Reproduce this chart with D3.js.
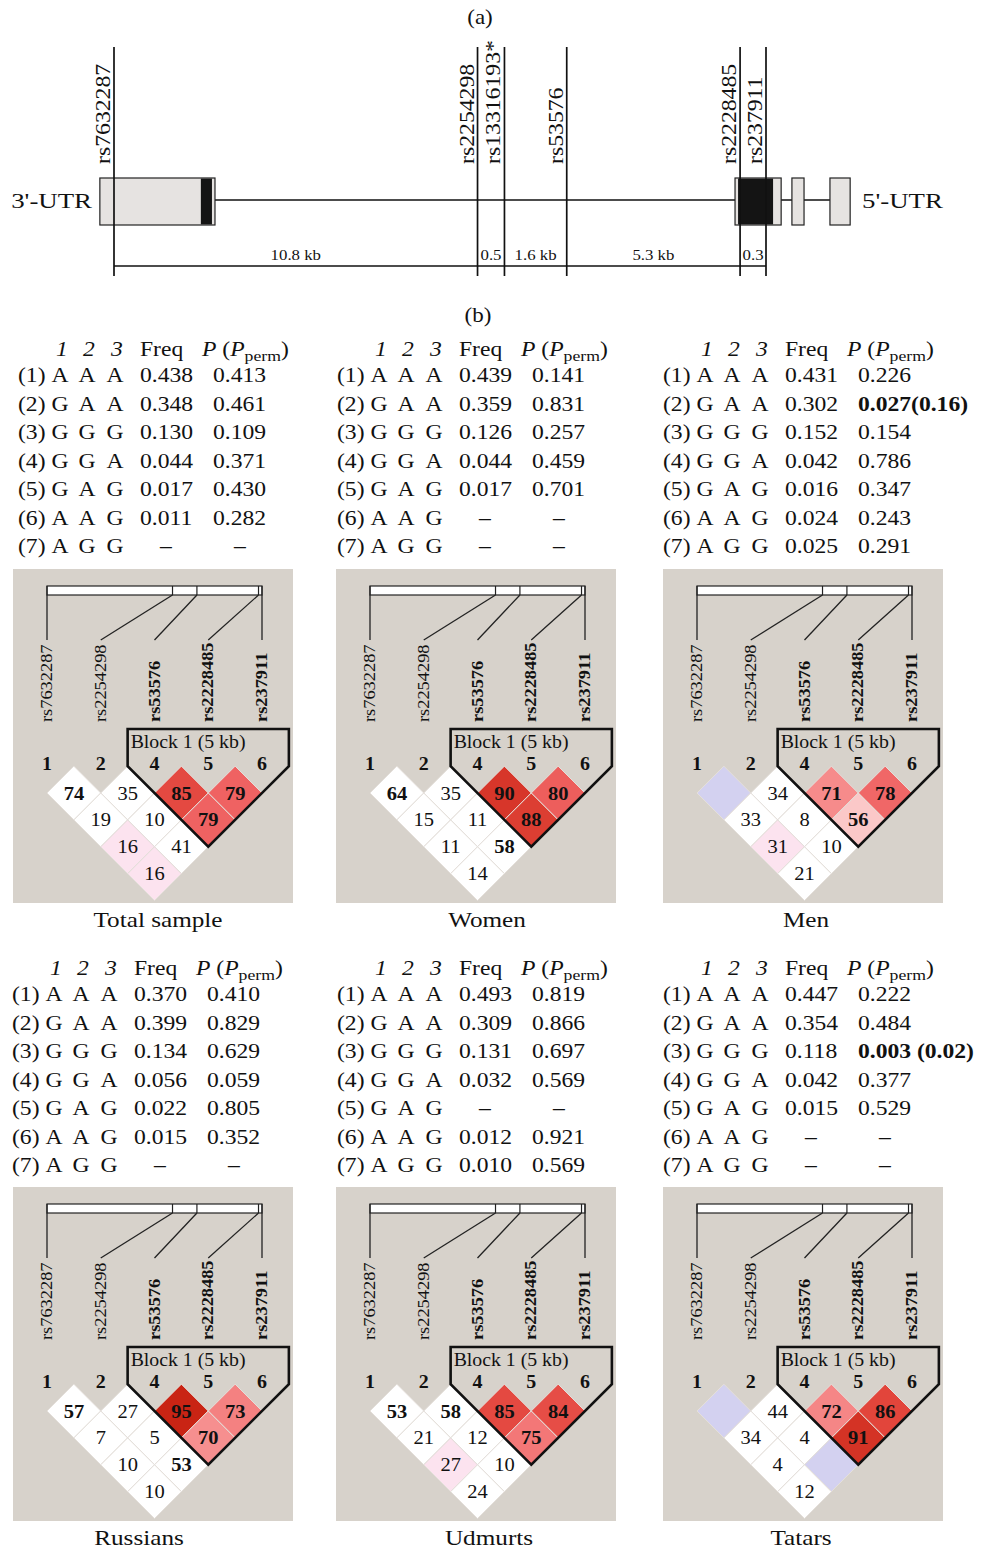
<!DOCTYPE html>
<html><head><meta charset="utf-8">
<script src="https://cdn.jsdelivr.net/npm/d3@7"></script>
<style>
body{margin:0;background:#fff}
svg{display:block}
text{font-family:"Liberation Serif","Times New Roman",serif;fill:#111}
</style>
</head><body>
<svg id="c" width="984" height="1549"></svg>
<script>
// ---------------- DATA ----------------
// (a) gene structure
const geneSnps = ["rs7632287", "rs2254298", "rs13316193*", "rs53576", "rs2228485", "rs237911"];
const geneSnpPos = [0, 10.8, 11.6, 13.45, 18.6, 19.37];          // schematic positions
const gapLabels = ["10.8 kb", "0.5", "1.6 kb", "5.3 kb", "0.3"];
const exonStart = [-0.42, 18.45, 20.14, 21.27];
const exonEnd = [3.0, 19.82, 20.5, 21.87];
const cdsStart = [2.58, 18.54, null, null];
const cdsEnd = [2.91, 19.58, null, null];

// (b) haplotype tables
const groups = ["Total sample", "Women", "Men", "Russians", "Udmurts", "Tatars"];
const haplotypes = ["A A A", "G A A", "G G G", "G G A", "G A G", "A A G", "A G G"];
const freqTotal = ["0.438", "0.348", "0.130", "0.044", "0.017", "0.011", "–"];
const pTotal = ["0.413", "0.461", "0.109", "0.371", "0.430", "0.282", "–"];
const freqWomen = ["0.439", "0.359", "0.126", "0.044", "0.017", "–", "–"];
const pWomen = ["0.141", "0.831", "0.257", "0.459", "0.701", "–", "–"];
const freqMen = ["0.431", "0.302", "0.152", "0.042", "0.016", "0.024", "0.025"];
const pMen = ["0.226", "0.027(0.16)", "0.154", "0.786", "0.347", "0.243", "0.291"];
const freqRussians = ["0.370", "0.399", "0.134", "0.056", "0.022", "0.015", "–"];
const pRussians = ["0.410", "0.829", "0.629", "0.059", "0.805", "0.352", "–"];
const freqUdmurts = ["0.493", "0.309", "0.131", "0.032", "–", "0.012", "0.010"];
const pUdmurts = ["0.819", "0.866", "0.697", "0.569", "–", "0.921", "0.569"];
const freqTatars = ["0.447", "0.354", "0.118", "0.042", "0.015", "–", "–"];
const pTatars = ["0.222", "0.484", "0.003 (0.02)", "0.377", "0.529", "–", "–"];
const significantP = ["0.027(0.16)", "0.003 (0.02)"];

// LD plots
const ldSnps = ["rs7632287", "rs2254298", "rs53576", "rs2228485", "rs237911"];
const ldMarkerNums = ["1", "2", "4", "5", "6"];
const ldBlockSnps = [false, false, true, true, true];
const ldGapsKb = [10.8, 2.1, 5.3, 0.3];
const ldPairs = [[0,1],[1,2],[2,3],[3,4],[0,2],[1,3],[2,4],[0,3],[1,4],[0,4]];
const ldTotal = [74, 35, 85, 79, 19, 10, 79, 16, 41, 16];
const ldWomen = [64, 35, 90, 80, 15, 11, 88, 11, 58, 14];
const ldMen = [null, 34, 71, 78, 33, 8, 56, 31, 10, 21];
const ldRussians = [57, 27, 95, 73, 7, 5, 70, 10, 53, 10];
const ldUdmurts = [53, 58, 85, 84, 21, 12, 75, 27, 10, 24];
const ldTatars = [null, 44, 72, 86, 34, 4, 91, 4, null, 12];
// cell class: w = white, p = pink (low), b = blue, r = red graded by D'
const clsTotal = ["w","w","r","r","w","w","r","p","w","p"];
const clsWomen = ["w","w","r","r","w","w","r","w","w","w"];
const clsMen = ["b","w","r","r","w","w","r","p","w","w"];
const clsRussians = ["w","w","r","r","w","w","r","w","w","w"];
const clsUdmurts = ["w","w","r","r","w","w","r","p","w","w"];
const clsTatars = ["b","w","r","r","w","w","r","w","b","w"];

const freqs = [freqTotal, freqWomen, freqMen, freqRussians, freqUdmurts, freqTatars];
const pvals = [pTotal, pWomen, pMen, pRussians, pUdmurts, pTatars];
const lds = [ldTotal, ldWomen, ldMen, ldRussians, ldUdmurts, ldTatars];
const clss = [clsTotal, clsWomen, clsMen, clsRussians, clsUdmurts, clsTatars];

// ---------------- LAYOUT ----------------
const tableX = [0, 319, 645, -6, 319, 645];
const tableY = [0, 0, 0, 619, 619, 619];
const panelX = [13, 336, 663, 13, 336, 663];
const panelY = [569, 569, 569, 1187, 1187, 1187];
const titleX = [158, 487, 806, 139, 489, 801];
const PW = 280, PH = 334;

const svg = d3.select("#c");
const INK = "#111";

function T(g, x, y, s, o = {}) {
  const t = g.append("text")
    .attr("transform", `translate(${x},${y})${o.rot ? ` rotate(${o.rot})` : ""} scale(${o.sx || 1.18},1)`)
    .attr("font-size", o.size || 20)
    .attr("text-anchor", o.anchor || "start");
  if (o.weight) t.attr("font-weight", o.weight);
  if (o.italic) t.attr("font-style", "italic");
  if (s !== null) t.text(s);
  return t;
}

// ---------------- (a) ----------------
const gA = svg.append("g");
const xs = d3.scaleLinear().domain([0, 19.37]).range([114, 766]);
T(gA, 480, 24, "(a)", {anchor: "middle", size: 20, sx: 1.15});

gA.append("line").attr("x1", xs(exonEnd[0])).attr("x2", xs(exonStart[3]))
  .attr("y1", 200).attr("y2", 200).attr("stroke", INK).attr("stroke-width", 1.6);
exonStart.forEach((s, i) => {
  gA.append("rect").attr("x", xs(s)).attr("y", 178).attr("width", xs(exonEnd[i]) - xs(s)).attr("height", 47)
    .attr("fill", "#e6e3e1").attr("stroke", "#222").attr("stroke-width", 1.2);
  if (cdsStart[i] !== null) {
    gA.append("rect").attr("x", xs(cdsStart[i])).attr("y", 178.6).attr("width", xs(cdsEnd[i]) - xs(cdsStart[i])).attr("height", 45.8)
      .attr("fill", "#141414");
  }
});
geneSnps.forEach((s, i) => {
  const x = xs(geneSnpPos[i]);
  gA.append("line").attr("x1", x).attr("x2", x).attr("y1", 47).attr("y2", 276)
    .attr("stroke", INK).attr("stroke-width", 1.7);
  T(gA, x - 4, 164, s, {rot: -90, size: 22, sx: 1.08});
});
gA.append("line").attr("x1", xs(geneSnpPos[0])).attr("x2", xs(geneSnpPos[5]))
  .attr("y1", 266).attr("y2", 266).attr("stroke", INK).attr("stroke-width", 1.4);
gapLabels.forEach((l, i) => {
  const xm = (xs(geneSnpPos[i]) + xs(geneSnpPos[i + 1])) / 2;
  T(gA, xm, 260, l, {anchor: "middle", size: 14, sx: 1.2});
});
T(gA, 92, 208, "3'-UTR", {anchor: "end", size: 22, sx: 1.22});
T(gA, 862, 208, "5'-UTR", {anchor: "start", size: 22, sx: 1.22});

// ---------------- (b) ----------------
T(svg, 478, 322, "(b)", {anchor: "middle", size: 20, sx: 1.15});

const colX = [60, 87, 115];
groups.forEach((grp, k) => {
  const L = tableX[k], Y = tableY[k];
  const g = svg.append("g");
  ["1", "2", "3"].forEach((n, j) => T(g, L + colX[j] + 2, Y + 356, n, {anchor: "middle", italic: true}));
  T(g, L + 140, Y + 356, "Freq");
  const hp = T(g, L + 202, Y + 356, null);
  hp.append("tspan").attr("font-style", "italic").text("P");
  hp.append("tspan").text(" (");
  hp.append("tspan").attr("font-style", "italic").text("P");
  hp.append("tspan").attr("font-size", 15).attr("dy", 5).text("perm");
  hp.append("tspan").attr("dy", -5).text(")");
  haplotypes.forEach((h, i) => {
    const y = Y + 382 + i * 28.5;
    T(g, L + 18, y, `(${i + 1})`);
    h.split(" ").forEach((a, j) => T(g, L + colX[j], y, a, {anchor: "middle"}));
    const f = freqs[k][i], p = pvals[k][i];
    if (f === "–") T(g, L + 166, y, f, {anchor: "middle"}); else T(g, L + 140, y, f);
    if (p === "–") T(g, L + 240, y, p, {anchor: "middle"});
    else T(g, L + 213, y, p, {weight: significantP.includes(p) ? "bold" : null});
  });

  // ---------- LD panel ----------
  const P = svg.append("g").attr("transform", `translate(${panelX[k]},${panelY[k]})`);
  P.append("rect").attr("width", PW).attr("height", PH).attr("fill", "#d7d2cb");
  const mx = d3.scalePoint().domain(d3.range(ldSnps.length)).range([34, 249]);
  const h = mx.step() / 2;
  const cum = [0, ...Array.from(d3.cumsum(ldGapsKb))];
  const bx = d3.scaleLinear().domain([0, d3.max(cum)]).range([34, 249]);
  P.append("rect").attr("x", bx(0)).attr("y", 17).attr("width", bx(cum[cum.length - 1]) - bx(0)).attr("height", 9)
    .attr("fill", "#fff").attr("stroke", "#222").attr("stroke-width", 1.2);
  cum.forEach((c, i) => {
    P.append("line").attr("x1", bx(c)).attr("x2", bx(c)).attr("y1", 17).attr("y2", 26)
      .attr("stroke", "#222").attr("stroke-width", 1.2);
    P.append("line").attr("x1", bx(c)).attr("x2", mx(i)).attr("y1", 26).attr("y2", 71)
      .attr("stroke", "#222").attr("stroke-width", 1.3);
    T(P, mx(i) + 5, 153, ldSnps[i], {rot: -90, size: 17, sx: 1.08, weight: ldBlockSnps[i] ? "bold" : null});
    T(P, mx(i), 201, ldMarkerNums[i], {anchor: "middle", size: 19, sx: 1.05, weight: "bold"});
  });
  const y0 = 224;
  const red = d3.scaleLinear().domain([56, 71, 79, 86, 95])
    .range(["#fbc8c8", "#f68b8b", "#ef6262", "#e2453b", "#c92414"]).clamp(true);
  const fills = {w: "#ffffff", p: "#fce3ef", b: "#d3d1f0"};
  ldPairs.forEach(([a, b], n) => {
    const cx = (mx(a) + mx(b)) / 2, cy = y0 + (b - a - 1) * h;
    const v = lds[k][n], c = clss[k][n];
    P.append("path").attr("d", `M${cx},${cy - h}L${cx + h},${cy}L${cx},${cy + h}L${cx - h},${cy}Z`)
      .attr("fill", c === "r" ? red(v) : fills[c]).attr("stroke", "#e4dfda").attr("stroke-width", 1);
    if (v !== null) T(P, cx, cy + 6.5, String(v), {anchor: "middle", size: 19, sx: 1.08, weight: v >= 50 ? "bold" : null});
  });
  const bl = mx(1) + h, br = mx(4) + h;
  P.append("path")
    .attr("d", `M${bl},160L${br},160L${br},${y0 - h}L${mx(3)},${y0 + 2 * h}L${bl},${y0 - h}Z`)
    .attr("fill", "none").attr("stroke", INK).attr("stroke-width", 2.6).attr("stroke-linejoin", "miter");
  T(P, bl + 3, 179, "Block 1 (5 kb)", {size: 18, sx: 1.1});
  T(svg, titleX[k], panelY[k] + 358, grp, {anchor: "middle", size: 21, sx: 1.2});
});
</script>
</body></html>
